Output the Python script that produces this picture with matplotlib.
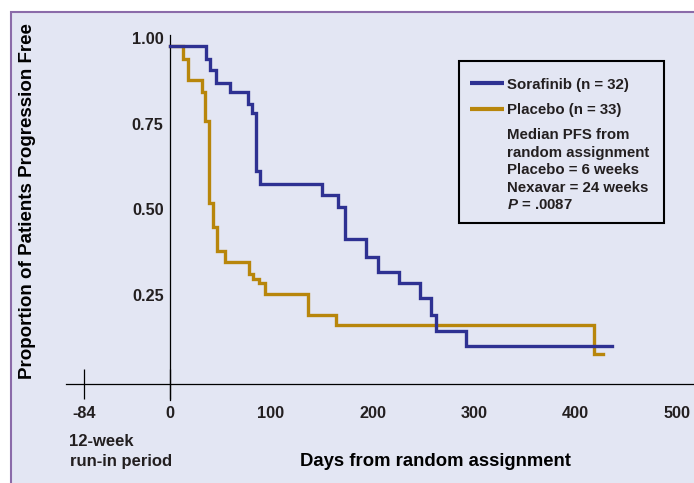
import matplotlib
matplotlib.use("Agg")
import matplotlib.pyplot as plt
from matplotlib.lines import Line2D
from matplotlib.patches import Rectangle

# Kaplan-Meier style step data (days, proportion after event)
sorafinib_days = [0, 35.7, 39.9, 45.5, 59.3, 77.6, 81.5, 85.5, 89.0, 150.0, 166.3, 173.0,
                  193.3, 205.8, 226.0, 247.0, 257.5, 262.2, 292.4, 435.6]
sorafinib_prop = [0.976, 0.938, 0.906, 0.869, 0.841, 0.807, 0.782, 0.613, 0.574, 0.542, 0.506, 0.413,
                  0.362, 0.318, 0.285, 0.240, 0.193, 0.146, 0.102, 0.102]

placebo_days = [0, 13.6, 18.6, 31.7, 35.0, 39.3, 42.8, 47.1, 54.7, 78.6, 81.9, 88.2, 94.1,
                136.6, 164.0, 418.5, 426.8]
placebo_prop = [0.976, 0.938, 0.877, 0.841, 0.758, 0.519, 0.447, 0.378, 0.347, 0.311, 0.297, 0.286, 0.253,
                0.192, 0.162, 0.077, 0.077]

y_ticks = [0.25, 0.50, 0.75, 1.00]
y_labels = ["0.25", "0.50", "0.75", "1.00"]
x_ticks = [-84, 0, 100, 200, 300, 400, 500]
x_labels = ["-84", "0", "100", "200", "300", "400", "500"]

BG = "#E3E6F3"
FRAME = "#8B6BA9"
BLUE = "#2E3192"
GOLD = "#B8860B"
INK = "#231F20"

plt.rcParams["font.family"] = ["Liberation Sans", "DejaVu Sans"]
plt.rcParams["font.weight"] = "bold"
plt.rcParams["mathtext.fontset"] = "custom"
plt.rcParams["mathtext.rm"] = "Liberation Sans:bold"
plt.rcParams["mathtext.it"] = "Liberation Sans:italic:bold"
plt.rcParams["text.color"] = INK

W, H = 694, 483
fig = plt.figure(figsize=(W / 100, H / 100), dpi=100)
fig.patch.set_facecolor("white")
fig.patches.append(Rectangle((10.7 / W, -0.2), 1.2, 1.2 - 12.3 / H, transform=fig.transFigure,
                             facecolor=BG, edgecolor=FRAME, linewidth=1.5, zorder=-10))
# legend box (drawn on its own, the legend itself is frameless)
fig.patches.append(Rectangle((459 / W, 1 - 223.3 / H), (664 - 459) / W, (223.3 - 60.7) / H,
                             transform=fig.transFigure, facecolor="none", edgecolor="black",
                             linewidth=1.5, zorder=-5))

# axes box in pixels: x 66..694, y 33..400
ax = fig.add_axes([66 / W, 1 - 400 / H, (W - 66) / W, (400 - 33) / H])
ax.patch.set_visible(False)

# pixel <-> data: x = 169.5 + 1.015*day, y = 380.7 - 342.8*prop
ax.set_xlim((66 - 169.5) / 1.015, (W - 169.5) / 1.015)
ax.set_ylim((380.7 - 400) / 342.8, (380.7 - 33) / 342.8)

lw = 2.4
ax.step(sorafinib_days, sorafinib_prop, where="post", color=BLUE, lw=lw, zorder=3,
        solid_joinstyle="miter")
ax.step(placebo_days, placebo_prop, where="post", color=GOLD, lw=lw, zorder=2,
        solid_joinstyle="miter")

for s in ["top", "right"]:
    ax.spines[s].set_visible(False)
ax.spines["left"].set_position(("data", 0))
ax.spines["left"].set_bounds((380.7 - 400) / 342.8, (380.7 - 35) / 342.8)
ax.spines["bottom"].set_position(("data", (380.7 - 384) / 342.8))
for s in ["left", "bottom"]:
    ax.spines[s].set_linewidth(0.9)
    ax.spines[s].set_color("black")

ax.set_yticks(y_ticks, y_labels)
ax.tick_params(axis="y", length=0, pad=4.3, labelsize=11.7, labelcolor=INK)
ax.set_xticks(x_ticks, x_labels)
ax.set_xticks([-84, 0], minor=True)
ax.xaxis.remove_overlapping_locs = False
ax.tick_params(axis="x", which="major", length=0, pad=16, labelsize=11.7, labelcolor=INK)
ax.tick_params(axis="x", which="minor", direction="inout", length=21.6, width=0.9, color="black")

ax.set_ylabel("Proportion of Patients Progression Free", fontsize=13.5, fontweight="bold", va="center")
ax.yaxis.set_label_coords((27.5 - 66) / (W - 66), (400 - 201.5) / 367)
ax.set_xlabel("Days from random assignment", fontsize=13.3, fontweight="bold", va="center")
ax.xaxis.set_label_coords((435.5 - 66) / (W - 66), (400 - 461.7) / 367)

ax.text((69.5 - 169.5) / 1.015, (380.7 - 451.7) / 342.8, "12-week\nrun-in period",
        ha="left", va="center", fontsize=12, linespacing=1.4)

handles = [
    Line2D([], [], color=BLUE, lw=3, solid_capstyle="butt"),
    Line2D([], [], color=GOLD, lw=3, solid_capstyle="butt"),
    Line2D([], [], color="none"),
]
labels = [
    "Sorafinib (n = 32)",
    "Placebo (n = 33)",
    "Median PFS from\nrandom assignment\nPlacebo = 6 weeks\nNexavar = 24 weeks\n$P$ = .0087",
]
leg = ax.legend(handles, labels, loc="upper left", bbox_to_anchor=(459 / W, 1 - 66.4 / H),
                bbox_transform=fig.transFigure, borderaxespad=0, fontsize=10.8,
                frameon=False, handlelength=2.23, handletextpad=0.22,
                labelspacing=0.75, borderpad=0.75)
leg.get_texts()[2].set_linespacing(1.32)

fig.savefig("out.png", dpi=100)
